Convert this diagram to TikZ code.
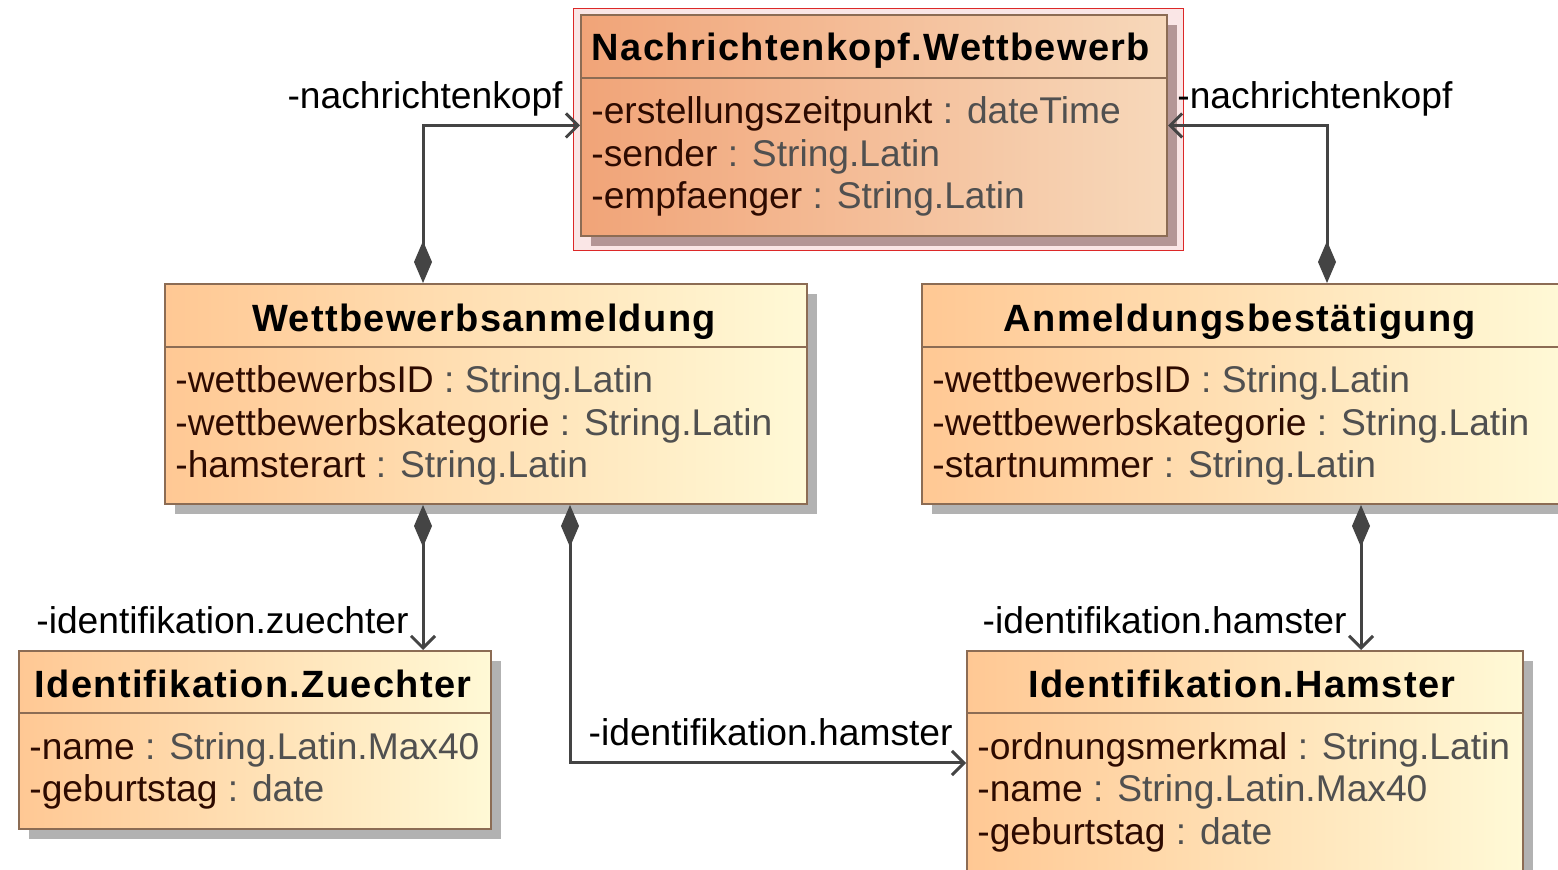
\documentclass[tikz,border=0pt]{standalone}
\usepackage{fontspec}
\setmainfont{Liberation Sans}
\newfontfamily\titlefont{Liberation Sans}[LetterSpace=3.5]
\usetikzlibrary{arrows.meta,shadows}

\definecolor{lineC}{RGB}{68,68,68}
\definecolor{borderC}{RGB}{140,108,84}
\definecolor{nkLeft}{RGB}{241,164,120}
\definecolor{nkRight}{RGB}{247,216,186}
\definecolor{clsLeft}{RGB}{255,200,148}
\definecolor{clsRight}{RGB}{255,249,214}
\definecolor{nameC}{RGB}{45,10,0}
\definecolor{typeC}{RGB}{80,80,80}
\definecolor{hlRed}{RGB}{220,40,40}
\definecolor{hlFill}{RGB}{250,230,230}
\definecolor{shadowC}{RGB}{178,178,178}
\definecolor{nkShadowC}{RGB}{180,150,150}

\newcommand{\umlattr}[2]{{\color{nameC}#1} {\color{typeC}: #2}}

\begin{document}
\begin{tikzpicture}
  [x=0.5pt,y=-0.5pt,
   clsbox/.style={rectangle,draw=borderC,line width=1pt,inner sep=0pt,anchor=north west,
     left color=clsLeft,right color=clsRight,
     drop shadow={shadow xshift=5pt,shadow yshift=-5pt,fill=shadowC,opacity=1}},
   nkbox/.style={rectangle,draw=borderC,line width=1pt,inner sep=0pt,anchor=north west,
     left color=nkLeft,right color=nkRight,
     drop shadow={shadow xshift=5pt,shadow yshift=-5pt,fill=nkShadowC,opacity=1}},
   hlbox/.style={rectangle,draw=hlRed,line width=0.6pt,fill=hlFill,anchor=north west,inner sep=0pt},
   clstitle/.style={font={\fontsize{19}{22}\titlefont\bfseries},inner sep=0pt,anchor=base},
   attrline/.style={font=\fontsize{18.6}{22}\selectfont,inner sep=0pt,anchor=base west},
   rolelbl/.style={font=\fontsize{18.6}{22}\selectfont,inner sep=0pt},
   sepline/.style={draw=borderC,line width=1pt},
   compo/.style={draw=lineC,line width=1.5pt,
     arrows={Diamond[length=21pt,width=9pt]-Straight Barb[length=6pt,width=12pt]}}
  ]

  \path[use as bounding box,fill=white] (0,0) rectangle (1558,870);

  % message header
  \node[hlbox,minimum width=305pt,minimum height=121pt] (hl) at (573,8) {};
  \node[nkbox,minimum width=293pt,minimum height=110.5pt] (nk) at (580,14) {};
  \draw[sepline] ([yshift=-32pt]nk.north west) -- ([yshift=-32pt]nk.north east);
  \node[clstitle] (nk-t) at (871,61) {Nachrichtenkopf.Wettbewerb};
  \foreach \y/\nm/\ty [count=\i] in {124/-erstellungszeitpunkt/dateTime,
      167/-sender/String.Latin,209/-empfaenger/String.Latin}
    \node[attrline] (nk-a\i) at (591,\y) {\umlattr{\nm}{\ty}};

  % Wettbewerbsanmeldung
  \node[clsbox,minimum width=321pt,minimum height=110pt] (wb) at (164,283) {};
  \draw[sepline] ([yshift=-32pt]wb.north west) -- ([yshift=-32pt]wb.north east);
  \node[clstitle] (wb-t) at (484,332) {Wettbewerbsanmeldung};
  \foreach \y/\nm/\ty [count=\i] in {393/-wettbewerbsID/String.Latin,
      436/-wettbewerbskategorie/String.Latin,478/-hamsterart/String.Latin}
    \node[attrline] (wb-a\i) at (175,\y) {\umlattr{\nm}{\ty}};

  % Anmeldungsbestaetigung
  \node[clsbox,minimum width=319.5pt,minimum height=110pt] (ab) at (921,283) {};
  \draw[sepline] ([yshift=-32pt]ab.north west) -- ([yshift=-32pt]ab.north east);
  \node[clstitle] (ab-t) at (1240,332) {Anmeldungsbestätigung};
  \foreach \y/\nm/\ty [count=\i] in {393/-wettbewerbsID/String.Latin,
      436/-wettbewerbskategorie/String.Latin,478/-startnummer/String.Latin}
    \node[attrline] (ab-a\i) at (932,\y) {\umlattr{\nm}{\ty}};

  % Identifikation.Zuechter
  \node[clsbox,minimum width=236pt,minimum height=89pt] (iz) at (18,650) {};
  \draw[sepline] ([yshift=-31.5pt]iz.north west) -- ([yshift=-31.5pt]iz.north east);
  \node[clstitle] (iz-t) at (253,698) {Identifikation.Zuechter};
  \foreach \y/\nm/\ty [count=\i] in {760/-name/String.Latin.Max40,802/-geburtstag/date}
    \node[attrline] (iz-a\i) at (29,\y) {\umlattr{\nm}{\ty}};

  % Identifikation.Hamster
  \node[clsbox,minimum width=278pt,minimum height=112pt] (ih) at (966,650) {};
  \draw[sepline] ([yshift=-31.5pt]ih.north west) -- ([yshift=-31.5pt]ih.north east);
  \node[clstitle] (ih-t) at (1242,698) {Identifikation.Hamster};
  \foreach \y/\nm/\ty [count=\i] in {760/-ordnungsmerkmal/String.Latin,
      802/-name/String.Latin.Max40,844/-geburtstag/date}
    \node[attrline] (ih-a\i) at (977,\y) {\umlattr{\nm}{\ty}};

  % compositions
  \draw[compo] ([xshift=129.5pt]wb.north west) |- (nk.west);
  \draw[compo] ([xshift=203pt]ab.north west) |- (nk.east);
  \draw[compo] ([xshift=129.5pt]wb.south west) -- ([xshift=202.5pt]iz.north west);
  \draw[compo] ([xshift=203pt]wb.south west) |- (ih.west);
  \draw[compo] ([xshift=220pt]ab.south west) -- ([xshift=197.5pt]ih.north west);

  % role names
  \node[rolelbl,anchor=base east] (r1) at (563,109) {-nachrichtenkopf};
  \node[rolelbl,anchor=base west] (r2) at (1177,109) {-nachrichtenkopf};
  \node[rolelbl,anchor=base east] (r3) at (409,634) {-identifikation.zuechter};
  \node[rolelbl,anchor=base east] (r4) at (953,746) {-identifikation.hamster};
  \node[rolelbl,anchor=base east] (r5) at (1347,634) {-identifikation.hamster};
\end{tikzpicture}
\end{document}
